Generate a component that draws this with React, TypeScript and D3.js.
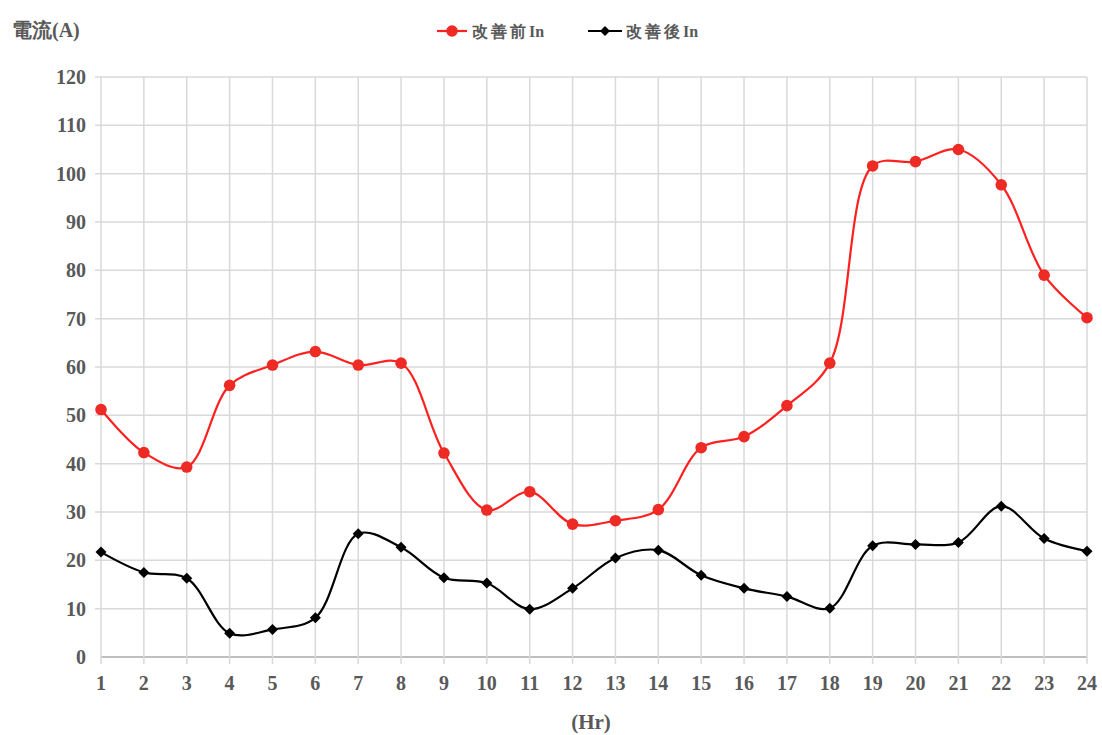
import React from "react";
import * as d3 from "d3";

const hours = [1,2,3,4,5,6,7,8,9,10,11,12,13,14,15,16,17,18,19,20,21,22,23,24];
const before = [51.2,42.3,39.3,56.2,60.4,63.2,60.4,60.8,42.2,30.4,34.2,27.5,28.2,30.5,43.3,45.6,52.0,60.8,101.6,102.5,105.0,97.7,79.0,70.2];
const after = [21.7,17.5,16.3,4.9,5.7,8.1,25.5,22.7,16.4,15.3,9.9,14.2,20.5,22.1,16.9,14.2,12.5,10.1,23.0,23.3,23.7,31.2,24.5,21.9];
const yTicks = [0,10,20,30,40,50,60,70,80,90,100,110,120];
const seriesPrefix = ["改善前", "改善後"];
const seriesSuffix = "In";
const yTitle = "電流(A)";
const xTitle = "(Hr)";

const W = 1102, H = 735;
const font = "'Liberation Serif', 'Times New Roman', serif";
const textColor = "#595959";

export default function App() {
  const x = d3.scaleLinear().domain([1, 24]).range([101, 1087]);
  const y = d3.scaleLinear().domain([0, 120]).range([657, 77]);
  const line = d3.line<number>()
    .x((_, i) => x(hours[i]))
    .y((d) => y(d))
    .curve(d3.curveCatmullRom.alpha(0.5));
  const diamond = (cx: number, cy: number, r: number) =>
    `M${cx},${cy - r}L${cx + r},${cy}L${cx},${cy + r}L${cx - r},${cy}Z`;

  return (
    <svg width={W} height={H} style={{ position: "absolute", left: 0, top: 0, background: "#fff" }}>
      <rect width={W} height={H} fill="#fff" />
      {/* grid */}
      {yTicks.map((t) => (
        <line key={"h" + t} x1={t === 0 ? x(1) : x(1) - 6} x2={x(24)} y1={y(t)} y2={y(t)} stroke={t === 0 ? "#bfbfbf" : "#d9d9d9"} strokeWidth={t === 0 ? 2 : 1.5} />
      ))}
      {hours.map((h) => (
        <line key={"v" + h} x1={x(h)} x2={x(h)} y1={y(120)} y2={y(0) + 7} stroke="#d9d9d9" strokeWidth={1.5} />
      ))}
      {/* y tick labels */}
      {yTicks.map((t) => (
        <text key={"yl" + t} x={86} y={y(t)} dy="0.35em" textAnchor="end" fontFamily={font} fontWeight="bold" fontSize={20} fill={textColor}>{t}</text>
      ))}
      {/* x tick labels */}
      {hours.map((h) => (
        <text key={"xl" + h} x={x(h)} y={690} textAnchor="middle" fontFamily={font} fontWeight="bold" fontSize={20} fill={textColor}>{h}</text>
      ))}
      <text x={591} y={729} textAnchor="middle" fontFamily={font} fontWeight="bold" fontSize={21} fill={textColor}>{xTitle}</text>
      <text x={12} y={37} fontFamily={font} fontWeight="bold" fontSize={20} fill={textColor}>{yTitle}</text>
      {/* series */}
      <path d={line(before) || ""} fill="none" stroke="#ff2020" strokeWidth={2.2} />
      <path d={line(after) || ""} fill="none" stroke="#000" strokeWidth={2.2} />
      {before.map((v, i) => (
        <circle key={"b" + i} cx={x(hours[i])} cy={y(v)} r={5.8} fill="#ee2a24" />
      ))}
      {after.map((v, i) => (
        <path key={"a" + i} d={diamond(x(hours[i]), y(v), 5.5)} fill="#000" />
      ))}
      {/* legend */}
      <line x1={437} x2={467} y1={31} y2={31} stroke="#ff2020" strokeWidth={2.2} />
      <circle cx={452} cy={31} r={5.8} fill="#ee2a24" />
      <text x={472} y={37} fontFamily={font} fontWeight="bold" fontSize={16} fill={textColor}>
        <tspan letterSpacing={3}>{seriesPrefix[0]}</tspan><tspan>{seriesSuffix}</tspan>
      </text>
      <line x1={588} x2={622} y1={31} y2={31} stroke="#000" strokeWidth={2.2} />
      <path d={diamond(605, 31, 5)} fill="#000" />
      <text x={626} y={37} fontFamily={font} fontWeight="bold" fontSize={16} fill={textColor}>
        <tspan letterSpacing={3}>{seriesPrefix[1]}</tspan><tspan>{seriesSuffix}</tspan>
      </text>
    </svg>
  );
}
